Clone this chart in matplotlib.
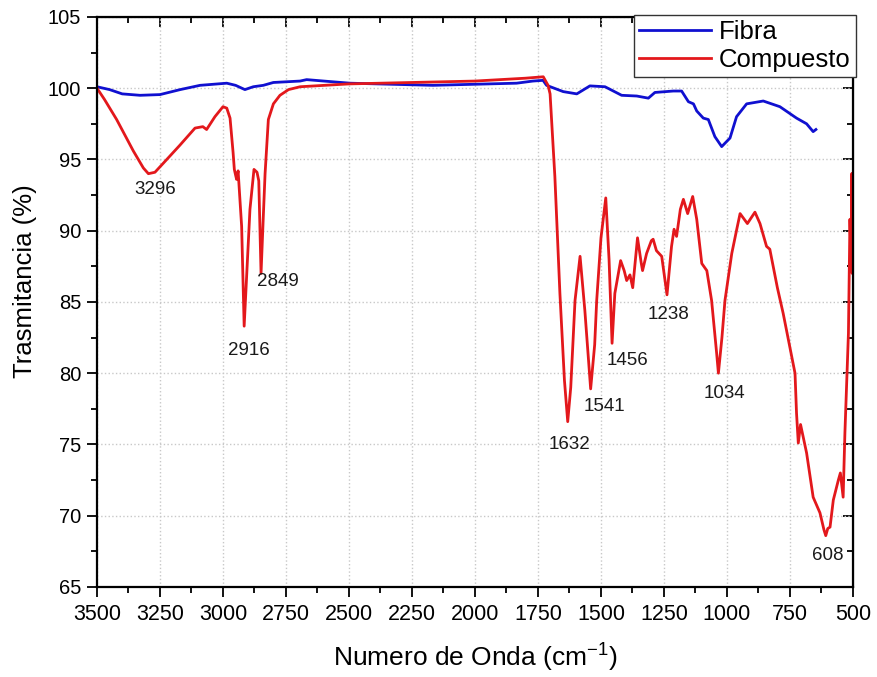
import matplotlib.pyplot as plt
from matplotlib.ticker import MultipleLocator

# FTIR spectra (wavenumber in cm-1, transmittance in %)
wn_fibra = [3500, 3450, 3400, 3329, 3250, 3170, 3091, 2985, 2950, 2913, 2880, 2840,
            2800, 2694, 2668, 2600, 2496, 2167, 1835, 1770, 1730, 1716, 1650, 1596,
            1544, 1484, 1418, 1358, 1312, 1286, 1213, 1180, 1153, 1133, 1120, 1094,
            1074, 1048, 1021, 988, 962, 922, 856, 790, 724, 684, 658, 647]
t_fibra = [100.1, 99.9, 99.6, 99.5, 99.55, 99.9, 100.2, 100.35, 100.2, 99.9, 100.1, 100.2,
           100.4, 100.5, 100.6, 100.5, 100.35, 100.2, 100.35, 100.5, 100.55, 100.2, 99.76, 99.6,
           100.16, 100.1, 99.5, 99.45, 99.3, 99.7, 99.8, 99.8, 99.05, 98.9, 98.4, 97.9,
           97.8, 96.6, 95.9, 96.5, 98.0, 98.9, 99.1, 98.7, 97.9, 97.5, 96.95, 97.1]

wn_comp = [3500, 3470, 3422, 3380, 3356, 3316, 3296, 3270, 3223, 3171, 3111, 3080,
           3065, 3032, 3000, 2985, 2972, 2960, 2955, 2950, 2946, 2940, 2926, 2916,
           2900, 2893, 2877, 2865, 2858, 2849, 2840, 2833, 2820, 2800, 2774, 2740,
           2694, 2500, 2250, 2000, 1800, 1729, 1710, 1702, 1683, 1663, 1645, 1632,
           1620, 1603, 1583, 1564, 1541, 1525, 1517, 1500, 1481, 1468, 1456, 1445,
           1422, 1408, 1398, 1385, 1374, 1355, 1340, 1335, 1319, 1300, 1293, 1280,
           1259, 1238, 1220, 1210, 1200, 1185, 1173, 1156, 1136, 1120, 1100, 1080,
           1061, 1041, 1034, 1020, 1008, 981, 960, 948, 919, 889, 869, 843,
           830, 800, 777, 730, 724, 717, 708, 684, 658, 631, 615, 608,
           600, 591, 578, 558, 550, 539, 532, 518, 512, 507, 505, 503, 500]
t_comp = [100.0, 99.2, 97.8, 96.4, 95.6, 94.4, 94.0, 94.1, 95.0, 96.0, 97.2, 97.3,
          97.1, 98.0, 98.7, 98.6, 97.9, 95.5, 94.3, 93.9, 93.6, 94.2, 90.3, 83.3,
          89.0, 91.5, 94.3, 94.1, 93.5, 87.0, 91.0, 94.0, 97.8, 98.9, 99.5, 99.9,
          100.1, 100.3, 100.4, 100.5, 100.7, 100.8, 100.2, 99.6, 93.8, 85.6, 79.5, 76.6,
          79.0, 85.1, 88.2, 84.4, 78.9, 82.0, 85.1, 89.5, 92.3, 88.0, 82.1, 85.6,
          87.9, 87.2, 86.5, 86.9, 86.0, 89.5, 87.7, 87.2, 88.4, 89.3, 89.4, 88.6,
          88.2, 85.5, 88.9, 90.1, 89.6, 91.5, 92.2, 91.2, 92.4, 90.8, 87.7, 87.2,
          85.1, 81.4, 80.0, 82.5, 85.1, 88.4, 90.2, 91.2, 90.5, 91.3, 90.5, 88.9,
          88.7, 86.0, 84.2, 80.0, 77.2, 75.1, 76.4, 74.4, 71.3, 70.2, 69.0, 68.6,
          69.1, 69.2, 71.1, 72.5, 73.0, 71.3, 75.8, 82.8, 90.8, 87.5, 94.0, 87.0, 94.0]

# peak labels and where their text sits
peak_labels = ['3296', '2916', '2849', '1632', '1541', '1456', '1238', '1034', '608']
peak_text_x = [3270, 2897, 2783, 1626, 1487, 1394, 1233, 1012, 600]
peak_text_y = [92.9, 81.6, 86.4, 75.0, 77.65, 80.9, 84.1, 78.55, 67.2]

plt.rcParams['font.family'] = ['Liberation Sans', 'DejaVu Sans']
plt.rcParams['mathtext.fontset'] = 'custom'
plt.rcParams['mathtext.rm'] = 'Liberation Sans'

fig = plt.figure(figsize=(8.77, 6.77), dpi=100)
ax = fig.add_axes([0.1106, 0.133, 0.862, 0.842])

ax.plot(wn_fibra, t_fibra, color='#1010d0', lw=2.0, label='Fibra')
ax.plot(wn_comp, t_comp, color='#e3181c', lw=2.0, label='Compuesto')

for lab, x, y in zip(peak_labels, peak_text_x, peak_text_y):
    ax.text(x, y, lab, ha='center', va='center', fontsize=13.5, color='#1a1a1a')

ax.set_xlim(3500, 500)
ax.set_ylim(65, 105)
ax.xaxis.set_major_locator(MultipleLocator(250))
ax.xaxis.set_minor_locator(MultipleLocator(125))
ax.yaxis.set_major_locator(MultipleLocator(5))
ax.yaxis.set_minor_locator(MultipleLocator(2.5))
ax.grid(True, which='major', linestyle=':', color='#c8c8c8', lw=1.0)

ax.tick_params(which='major', direction='out', length=7.5, width=1.3)
ax.tick_params(which='minor', direction='out', length=4.5, width=1.3)
ax.tick_params(axis='y', labelsize=14.5, pad=4)
ax.tick_params(axis='x', labelsize=15.5, pad=5)
for s in ax.spines.values():
    s.set_linewidth(1.6)

# top and right axes with inward ticks, no labels
top = ax.secondary_xaxis('top')
top.xaxis.set_major_locator(MultipleLocator(250))
top.xaxis.set_minor_locator(MultipleLocator(125))
top.tick_params(which='major', direction='in', length=7.5, width=1.3, labeltop=False)
top.tick_params(which='minor', direction='in', length=4.5, width=1.3)
right = ax.secondary_yaxis('right')
right.yaxis.set_major_locator(MultipleLocator(5))
right.yaxis.set_minor_locator(MultipleLocator(2.5))
right.tick_params(which='major', direction='in', length=7.5, width=1.3, labelright=False)
right.tick_params(which='minor', direction='in', length=4.5, width=1.3)

ax.set_xlabel(r'Numero de Onda (cm$^{-1}$)', fontsize=19, labelpad=11)
ax.set_ylabel('Trasmitancia (%)', fontsize=18.5)
ax.yaxis.set_label_coords(-0.079, 0.537)

leg = ax.legend(loc='upper right', bbox_to_anchor=(856 / 877, 1 - 15 / 677),
                bbox_transform=fig.transFigure, fontsize=18.5, handlelength=2.8,
                handletextpad=0.3, labelspacing=0.15, borderpad=0.2,
                borderaxespad=0, fancybox=False, framealpha=1)
leg.get_frame().set_edgecolor('#333333')
leg.get_frame().set_linewidth(1.0)

fig.savefig('out.png', dpi=100)
